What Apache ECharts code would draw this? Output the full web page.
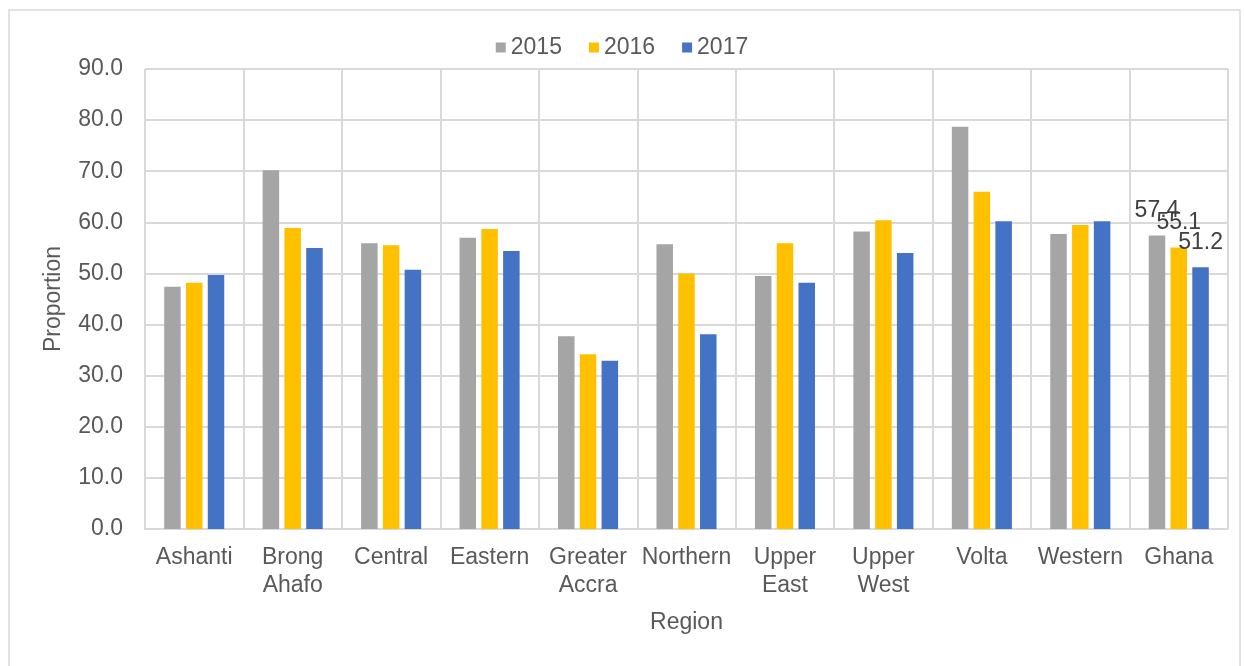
<!DOCTYPE html>
<html>
<head>
<meta charset="utf-8">
<script src="https://cdn.jsdelivr.net/npm/echarts@6/dist/echarts.min.js"></script>
<style>
  html, body { margin: 0; padding: 0; background: #fff; }
  #chart { width: 1244px; height: 666px; }
</style>
</head>
<body>
<div id="chart"></div>
<script>
// 数据
const regions = ['Ashanti', 'Brong\nAhafo', 'Central', 'Eastern', 'Greater\nAccra', 'Northern', 'Upper\nEast', 'Upper\nWest', 'Volta', 'Western', 'Ghana']
const years = ['2015', '2016', '2017']
const values2015 = [47.4, 70.2, 55.9, 57.0, 37.7, 55.7, 49.5, 58.2, 78.7, 57.7, 57.4]
const values2016 = [48.2, 58.9, 55.5, 58.7, 34.2, 50.0, 55.9, 60.4, 66.0, 59.5, 55.1]
const values2017 = [49.7, 55.0, 50.7, 54.4, 32.9, 38.1, 48.2, 54.0, 60.2, 60.2, 51.2]
const colors = ['#A5A5A5', '#FFC000', '#4472C4']

const font = 'Liberation Sans, Arial, sans-serif'
const textColor = '#595959'
const gridColor = '#d9d9d9'

// only the last group (Ghana) carries data labels
function withLabels (arr) {
  return arr.map((v, i) => i === arr.length - 1 ? { value: v, label: { show: true } } : v)
}

const seriesData = [values2015, values2016, values2017].map((vals, i) => ({
  name: years[i],
  type: 'bar',
  barWidth: 16.5,
  barGap: '32%',
  itemStyle: { color: colors[i] },
  label: {
    show: false,
    position: 'top',
    distance: 13,
    fontFamily: font,
    fontSize: 23,
    color: '#404040',
    formatter: p => p.value.toFixed(1)
  },
  data: withLabels(vals)
}))

const dom = echarts.init(document.getElementById('chart'))
dom.setOption({
  animation: false,
  textStyle: { fontFamily: font },
  graphic: [{
    type: 'rect',
    shape: { x: 9, y: 10, width: 1231, height: 680 },
    style: { fill: 'none', stroke: gridColor, lineWidth: 1.5 },
    silent: true
  }],
  legend: {
    data: years,
    top: 31,
    left: 'center',
    icon: 'rect',
    itemWidth: 10,
    itemHeight: 10,
    itemGap: 27,
    textStyle: { fontSize: 23, color: textColor, fontFamily: font }
  },
  grid: { left: 145, right: 16, top: 69, bottom: 137 },
  xAxis: {
    type: 'category',
    data: regions,
    name: 'Region',
    nameLocation: 'middle',
    nameGap: 82,
    nameTextStyle: { fontSize: 23, color: textColor, fontFamily: font },
    axisLine: { lineStyle: { color: gridColor, width: 2 } },
    axisTick: { show: false },
    splitLine: { show: true, lineStyle: { color: gridColor, width: 2 } },
    axisLabel: {
      interval: 0,
      fontSize: 23,
      lineHeight: 28,
      margin: 15,
      color: textColor,
      fontFamily: font
    }
  },
  yAxis: {
    type: 'value',
    min: 0,
    max: 90,
    interval: 10,
    name: 'Proportion',
    nameLocation: 'middle',
    nameGap: 80,
    nameTextStyle: { fontSize: 23, color: textColor, fontFamily: font },
    axisLine: { show: false },
    axisTick: { show: false },
    splitLine: { show: true, lineStyle: { color: gridColor, width: 2 } },
    axisLabel: {
      fontSize: 23,
      margin: 22,
      color: textColor,
      fontFamily: font,
      formatter: v => v.toFixed(1)
    }
  },
  series: seriesData
})
</script>
</body>
</html>
